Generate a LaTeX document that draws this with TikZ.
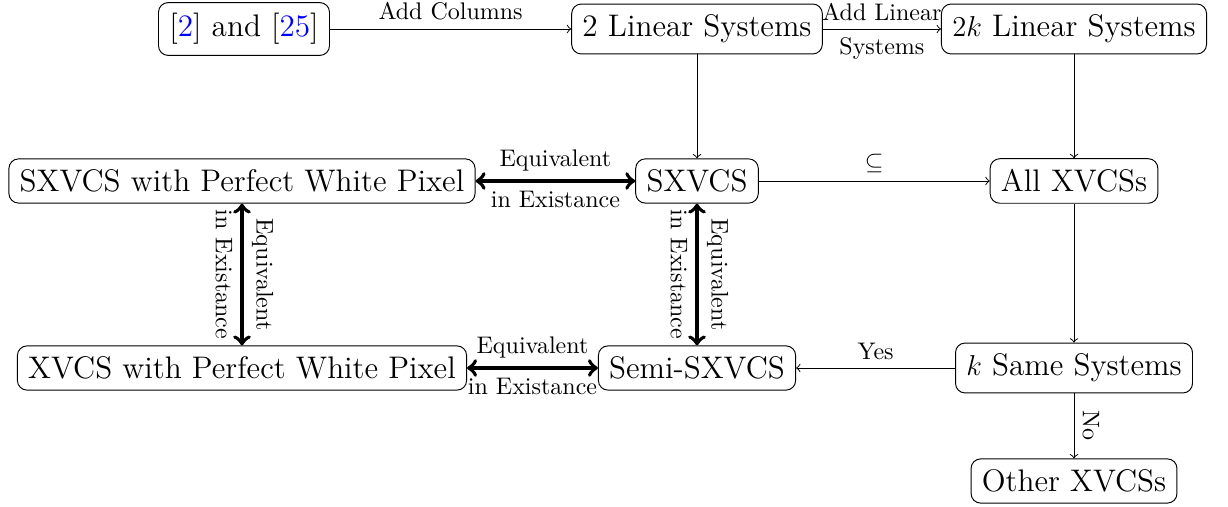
\documentclass[tikz,border=0pt]{standalone}
\begin{document}
\begin{tikzpicture}[x=0.41667pt,y=-0.41667pt,
  box/.style={draw, rounded corners=4pt, inner sep=4.5pt, font=\fontsize{13}{15}\selectfont},
  lab/.style={font=\fontsize{10}{12}\selectfont},
  eqarr/.style={<->, ultra thick}]
\useasboundingbox (0,0) rectangle (1228,507);
\node[box] (src) at (244,29) {[\textcolor{blue}{2}] and [\textcolor{blue}{25}]};
\node[box] (two) at (697,29) {2 Linear Systems};
\node[box] (twok) at (1074,29) {$2k$ Linear Systems};
\node[box] (spwp) at (242,181) {SXVCS with Perfect White Pixel};
\node[box] (sx) at (697,181) {SXVCS};
\node[box] (all) at (1074,181) {All XVCSs};
\node[box] (xpwp) at (242,368) {XVCS with Perfect White Pixel};
\node[box] (semi) at (697,368) {Semi-SXVCS};
\node[box] (ksame) at (1074,368) {$k$ Same Systems};
\node[box] (other) at (1074,481) {Other XVCSs};

\draw[->] (src) -- node[lab, above] {Add Columns} (two);
\draw[->] (two) -- node[lab, above] {Add Linear} node[lab, below] {Systems} (twok);
\draw[->] (two) -- (sx);
\draw[->] (twok) -- (all);
\draw[->] (sx) -- node[lab, above] {$\subseteq$} (all);
\draw[eqarr] (spwp) -- node[lab, above] {Equivalent} node[lab, below] {in Existance} (sx);
\draw[eqarr] (spwp) -- node[lab, sloped, above] {Equivalent} node[lab, sloped, below] {in Existance} (xpwp);
\draw[eqarr] (sx) -- node[lab, sloped, above] {Equivalent} node[lab, sloped, below] {in Existance} (semi);
\draw[eqarr] (xpwp) -- node[lab, above] {Equivalent} node[lab, below] {in Existance} (semi);
\draw[->] (all) -- (ksame);
\draw[->] (ksame) -- node[lab, above] {Yes} (semi);
\draw[->] (ksame) -- node[lab, sloped, above] {No} (other);
\end{tikzpicture}
\end{document}
